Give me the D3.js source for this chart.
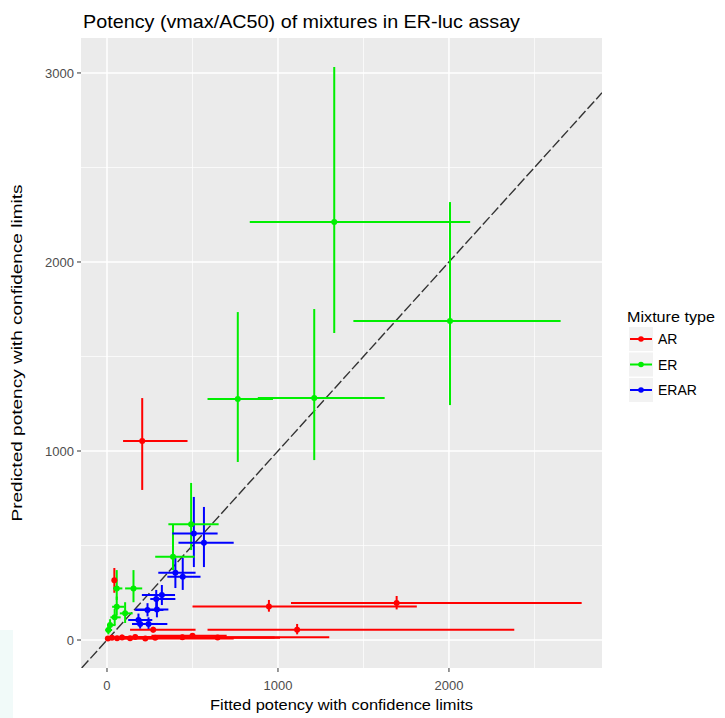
<!DOCTYPE html>
<meta charset="utf-8">
<style>
    body { margin: 0; background: #fff; }
    svg { display: block; font-family: "Liberation Sans", Arial, sans-serif; }
    .grid-major { stroke: #fff; stroke-width: 1.5; }
    .grid-minor { stroke: #fff; stroke-width: 0.7; }
    .tick-label { fill: #4d4d4d; font-size: 13px; }
</style>
<body>
<svg width="725" height="718"></svg>
<script src="https://d3js.org/d3.v7.min.js"></script>
<script>
    // chaque ligne : [x, y, xmin, xmax, ymin, ymax]
    const arPoints = [
        [206, 1053, 94, 471, 794, 1280],
        [947, 178, 500, 1812, 150, 212],
        [1694, 196, 1076, 2776, 162, 233],
        [1112, 55, 588, 2382, 30, 85],
        [43, 316, 35, 55, 250, 381],
        [270, 55, 135, 518, 40, 70],
        [5, 8, -10, 30, -5, 20],
        [29, 12, 10, 70, 0, 25],
        [59, 10, 25, 140, -2, 22],
        [88, 14, 40, 230, 2, 28],
        [135, 10, 60, 300, 0, 22],
        [165, 16, 80, 420, 5, 28],
        [224, 8, 100, 741, -3, 20],
        [282, 12, 130, 1012, 0, 25],
        [441, 15, 200, 1300, 5, 28],
        [500, 22, 260, 700, 12, 35],
        [647, 14, 320, 980, 5, 25]
    ];
    const erPoints = [
        [1329, 2212, 835, 2124, 1624, 3032],
        [2006, 1688, 1441, 2653, 1243, 2317],
        [1212, 1280, 882, 1624, 952, 1751],
        [765, 1275, 588, 971, 942, 1735],
        [492, 612, 359, 653, 476, 831],
        [386, 441, 282, 512, 370, 614],
        [155, 273, 106, 206, 200, 370],
        [57, 273, 35, 90, 212, 370],
        [57, 176, 30, 100, 130, 230],
        [106, 141, 75, 150, 90, 200],
        [45, 120, 20, 80, 80, 165],
        [18, 79, 0, 50, 50, 110],
        [8, 53, -10, 30, 30, 80]
    ];
    const erarPoints = [
        [508, 564, 382, 647, 386, 757],
        [567, 515, 418, 741, 386, 704],
        [400, 356, 300, 518, 275, 434],
        [443, 335, 353, 547, 265, 434],
        [321, 238, 204, 398, 185, 291],
        [288, 217, 253, 400, 170, 265],
        [292, 162, 165, 359, 120, 215],
        [237, 159, 165, 330, 125, 195],
        [184, 106, 124, 265, 80, 140],
        [194, 85, 147, 300, 60, 115],
        [243, 85, 147, 353, 55, 120]
    ];
    const mixtureTypes = ["AR", "ER", "ERAR"];
    const mixtureColors = ["#ff0000", "#00ee00", "#0000ff"];
    const xTicks = [0, 1000, 2000];
    const xMinorTicks = [500, 1500, 2500];
    const yTicks = [0, 1000, 2000, 3000];
    const yMinorTicks = [500, 1500, 2500];

    const svg = d3.select("svg");
    const panel = { left: 81, right: 602, top: 38, bottom: 668 };

    // coin bas-gauche cyan pâle de la capture d'origine
    svg.append("rect").attr("x", 0).attr("y", 630).attr("width", 13).attr("height", 88)
        .attr("fill", "#f1faf9");

    const x = d3.scaleLinear().domain([-152, 2895]).range([panel.left, panel.right]);
    const y = d3.scaleLinear().domain([-148, 3185]).range([panel.bottom, panel.top]);

    svg.append("defs").append("clipPath").attr("id", "clip")
        .append("rect")
        .attr("x", panel.left).attr("y", panel.top)
        .attr("width", panel.right - panel.left).attr("height", panel.bottom - panel.top);

    svg.append("rect")
        .attr("x", panel.left).attr("y", panel.top)
        .attr("width", panel.right - panel.left).attr("height", panel.bottom - panel.top)
        .attr("fill", "#ebebeb");

    const grid = svg.append("g");
    grid.selectAll(".xminor").data(xMinorTicks).join("line")
        .attr("class", "grid-minor")
        .attr("x1", d => x(d)).attr("x2", d => x(d))
        .attr("y1", panel.top).attr("y2", panel.bottom);
    grid.selectAll(".yminor").data(yMinorTicks).join("line")
        .attr("class", "grid-minor")
        .attr("y1", d => y(d)).attr("y2", d => y(d))
        .attr("x1", panel.left).attr("x2", panel.right);
    grid.selectAll(".xmajor").data(xTicks).join("line")
        .attr("class", "grid-major")
        .attr("x1", d => x(d)).attr("x2", d => x(d))
        .attr("y1", panel.top).attr("y2", panel.bottom);
    grid.selectAll(".ymajor").data(yTicks).join("line")
        .attr("class", "grid-major")
        .attr("y1", d => y(d)).attr("y2", d => y(d))
        .attr("x1", panel.left).attr("x2", panel.right);

    const plot = svg.append("g").attr("clip-path", "url(#clip)");

    // droite y = x
    const lo = Math.max(x.domain()[0], y.domain()[0]);
    const hi = Math.min(x.domain()[1], y.domain()[1]);
    plot.append("line")
        .attr("x1", x(lo)).attr("y1", y(lo))
        .attr("x2", x(hi)).attr("y2", y(hi))
        .attr("stroke", "#333").attr("stroke-width", 1.4)
        .attr("stroke-dasharray", "10,3");

    const series = [arPoints, erPoints, erarPoints].map((pts, i) =>
        pts.map(p => ({ type: mixtureTypes[i], color: mixtureColors[i],
            x: p[0], y: p[1], xmin: p[2], xmax: p[3], ymin: p[4], ymax: p[5] }))
    ).flat();

    plot.append("g").selectAll("line").data(series).join("line")
        .attr("x1", d => x(d.x)).attr("x2", d => x(d.x))
        .attr("y1", d => y(d.ymin)).attr("y2", d => y(d.ymax))
        .attr("stroke", d => d.color).attr("stroke-width", 2);

    plot.append("g").selectAll("line").data(series).join("line")
        .attr("x1", d => x(d.xmin)).attr("x2", d => x(d.xmax))
        .attr("y1", d => y(d.y)).attr("y2", d => y(d.y))
        .attr("stroke", d => d.color).attr("stroke-width", 2);

    plot.append("g").selectAll("circle").data(series).join("circle")
        .attr("cx", d => x(d.x)).attr("cy", d => y(d.y))
        .attr("r", 3).attr("fill", d => d.color);

    // axes
    const ticks = svg.append("g");
    ticks.selectAll(".xt").data(xTicks).join("line")
        .attr("x1", d => x(d)).attr("x2", d => x(d))
        .attr("y1", panel.bottom).attr("y2", panel.bottom + 4)
        .attr("stroke", "#333").attr("stroke-width", 1);
    ticks.selectAll(".xl").data(xTicks).join("text")
        .attr("class", "tick-label")
        .attr("x", d => x(d)).attr("y", panel.bottom + 22)
        .attr("text-anchor", "middle")
        .text(d => d);
    ticks.selectAll(".yt").data(yTicks).join("line")
        .attr("x1", panel.left - 4).attr("x2", panel.left)
        .attr("y1", d => y(d)).attr("y2", d => y(d))
        .attr("stroke", "#333").attr("stroke-width", 1);
    ticks.selectAll(".yl").data(yTicks).join("text")
        .attr("class", "tick-label")
        .attr("x", panel.left - 7).attr("y", d => y(d) + 5)
        .attr("text-anchor", "end")
        .text(d => d);

    svg.append("text")
        .attr("x", 83).attr("y", 28)
        .attr("font-size", 19)
        .attr("textLength", 437).attr("lengthAdjust", "spacingAndGlyphs")
        .text("Potency (vmax/AC50) of mixtures in ER-luc assay");

    svg.append("text")
        .attr("x", (panel.left + panel.right) / 2).attr("y", 710)
        .attr("text-anchor", "middle")
        .attr("font-size", 15)
        .attr("textLength", 263).attr("lengthAdjust", "spacingAndGlyphs")
        .text("Fitted potency with confidence limits");

    svg.append("text")
        .attr("transform", `translate(22,${(panel.top + panel.bottom) / 2}) rotate(-90)`)
        .attr("text-anchor", "middle")
        .attr("font-size", 15)
        .attr("textLength", 337).attr("lengthAdjust", "spacingAndGlyphs")
        .text("Predicted potency with confidence limits");

    // légende
    const legend = svg.append("g").attr("transform", "translate(627,0)");
    legend.append("text")
        .attr("x", 0).attr("y", 322)
        .attr("font-size", 15)
        .attr("textLength", 88).attr("lengthAdjust", "spacingAndGlyphs")
        .text("Mixture type");
    const keys = legend.selectAll("g").data(mixtureTypes).join("g")
        .attr("transform", (d, i) => `translate(2,${327 + i * 25.5})`);
    keys.append("rect").attr("width", 24).attr("height", 24).attr("fill", "#f2f2f2");
    keys.append("line")
        .attr("x1", 1).attr("x2", 23).attr("y1", 12).attr("y2", 12)
        .attr("stroke", (d, i) => mixtureColors[i]).attr("stroke-width", 2);
    keys.append("circle")
        .attr("cx", 12).attr("cy", 12).attr("r", 2.8)
        .attr("fill", (d, i) => mixtureColors[i]);
    keys.append("text")
        .attr("x", 29).attr("y", 17)
        .attr("font-size", 14)
        .text(d => d);
</script>
</body>
